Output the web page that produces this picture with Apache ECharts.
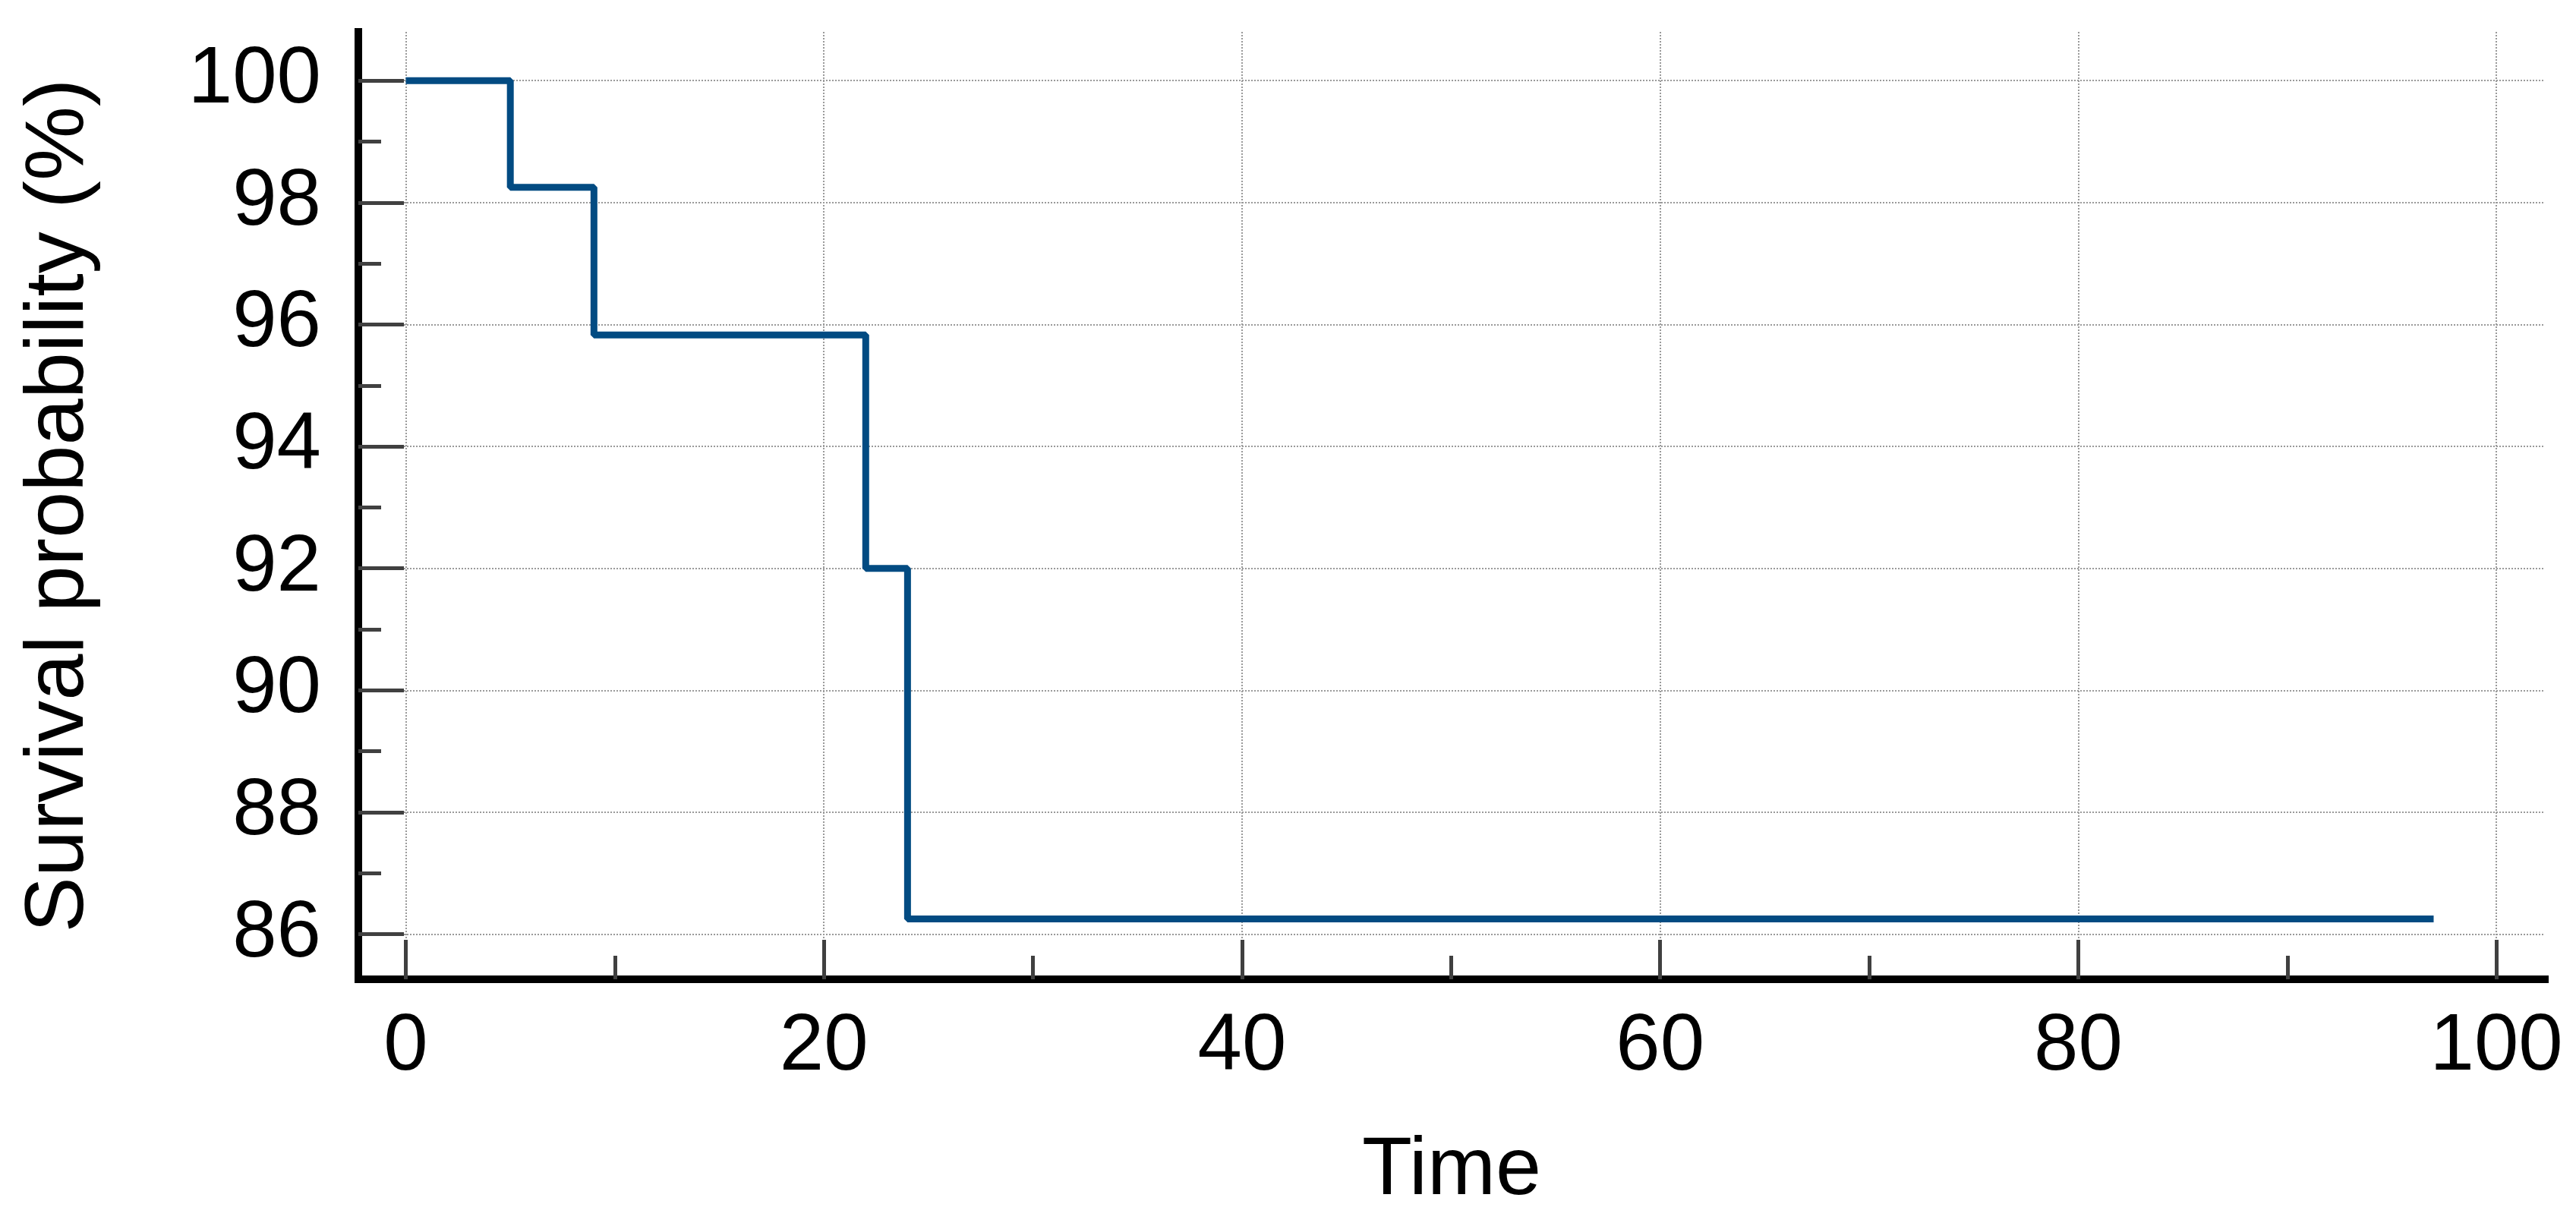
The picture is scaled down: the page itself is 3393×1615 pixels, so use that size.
<!DOCTYPE html>
<html>
<head>
<meta charset="utf-8">
<script src="https://cdn.jsdelivr.net/npm/echarts@6/dist/echarts.min.js"></script>
<style>
html, body { margin: 0; padding: 0; background: #fff; }
#chart { width: 3393px; height: 1615px; }
</style>
</head>
<body>
<div id="chart"></div>
<script>
// Kaplan-Meier steps: time of each event and survival after it
const times = [0, 5, 9, 22, 24, 97];
const survival = [100, 98.25, 95.83, 92.0, 86.25, 86.25];

const xMajorTicks = [0, 20, 40, 60, 80, 100];
const xMinorTicks = [10, 30, 50, 70, 90];
const yMajorTicks = [86, 88, 90, 92, 94, 96, 98, 100];
const yMinorTicks = [87, 89, 91, 93, 95, 97, 99];

const xRange = [-2.27, 102.32];
const yRange = [85.26, 100.8];

const font = 'Liberation Sans, Arial, sans-serif';
const tickColor = '#404040';
const gridColor = '#9a9a9a';

const chart = echarts.init(document.getElementById('chart'));

const option = {
    backgroundColor: '#fff',
    animation: false,
    grid: {
        left: 472,
        top: 42,
        right: 41,
        bottom: 325
    },
    xAxis: [
        {
            type: 'value',
            position: 'bottom',
            min: xRange[0],
            max: xRange[1],
            name: 'Time',
            nameLocation: 'middle',
            nameGap: 199,
            nameTextStyle: { fontSize: 108, color: '#000', fontFamily: font },
            axisLine: {
                show: true,
                onZero: false,
                lineStyle: { color: '#000', width: 10, cap: 'square' }
            },
            axisTick: {
                show: true,
                inside: true,
                length: 52,
                customValues: xMajorTicks,
                lineStyle: { color: tickColor, width: 5 }
            },
            axisLabel: {
                show: true,
                customValues: xMajorTicks,
                margin: 38,
                fontSize: 105,
                color: '#000',
                fontFamily: font
            },
            splitLine: {
                show: true,
                lineStyle: { color: gridColor, width: 2, type: [2, 2] }
            }
        },
        {
            // minor ticks only
            type: 'value',
            position: 'bottom',
            min: xRange[0],
            max: xRange[1],
            axisLine: { show: false, onZero: false },
            axisTick: {
                show: true,
                inside: true,
                length: 31,
                customValues: xMinorTicks,
                lineStyle: { color: tickColor, width: 5 }
            },
            axisLabel: { show: false },
            splitLine: { show: false }
        }
    ],
    yAxis: [
        {
            type: 'value',
            position: 'left',
            min: yRange[0],
            max: yRange[1],
            name: 'Survival probability (%)',
            nameLocation: 'middle',
            nameGap: 338,
            nameTextStyle: { fontSize: 110, color: '#000', fontFamily: font },
            axisLine: {
                show: true,
                onZero: false,
                lineStyle: { color: '#000', width: 10, cap: 'square' }
            },
            axisTick: {
                show: true,
                inside: true,
                length: 60,
                customValues: yMajorTicks,
                lineStyle: { color: tickColor, width: 5 }
            },
            axisLabel: {
                show: true,
                customValues: yMajorTicks,
                margin: 49,
                fontSize: 105,
                color: '#000',
                fontFamily: font
            },
            splitLine: {
                show: true,
                lineStyle: { color: gridColor, width: 2, type: [2, 2] }
            }
        },
        {
            // minor ticks only
            type: 'value',
            position: 'left',
            min: yRange[0],
            max: yRange[1],
            axisLine: { show: false, onZero: false },
            axisTick: {
                show: true,
                inside: true,
                length: 30,
                customValues: yMinorTicks,
                lineStyle: { color: tickColor, width: 5 }
            },
            axisLabel: { show: false },
            splitLine: { show: false }
        }
    ],
    series: [
        {
            type: 'line',
            xAxisIndex: 0,
            yAxisIndex: 0,
            step: 'end',
            symbol: 'none',
            data: times.map((t, i) => [t, survival[i]]),
            lineStyle: { color: '#024b82', width: 9 }
        }
    ]
};

chart.setOption(option);
</script>
</body>
</html>
